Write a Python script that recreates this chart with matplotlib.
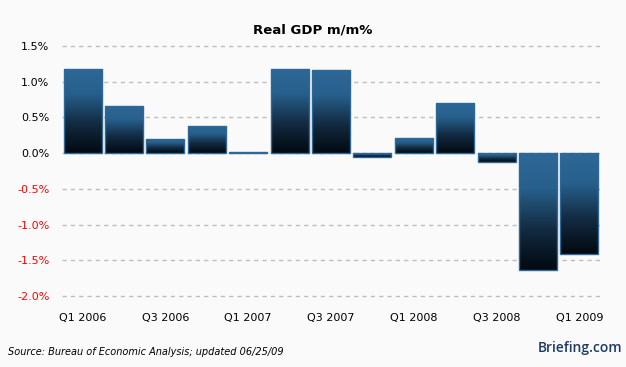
import matplotlib
matplotlib.use("Agg")
import matplotlib.pyplot as plt
import numpy as np
from matplotlib.colors import LinearSegmentedColormap
from matplotlib.patches import Rectangle

quarters = ["Q1 2006", "Q2 2006", "Q3 2006", "Q4 2006",
            "Q1 2007", "Q2 2007", "Q3 2007", "Q4 2007",
            "Q1 2008", "Q2 2008", "Q3 2008", "Q4 2008", "Q1 2009"]
values = [1.18, 0.66, 0.20, 0.38, 0.02, 1.18, 1.16, -0.05, 0.21, 0.70, -0.13, -1.63, -1.41]
yticks = [-2.0, -1.5, -1.0, -0.5, 0.0, 0.5, 1.0, 1.5]

W, H = 626, 367
fig = plt.figure(figsize=(W / 100, H / 100), dpi=100)
bg = "#fafafa"
fig.patch.set_facecolor(bg)
ax = fig.add_axes([62 / W, (H - 296) / H, 538 / W, 250 / H])
ax.set_facecolor(bg)

x = np.arange(len(values))

for yv in yticks:
    ax.axhline(yv, color="#bdbdbd", lw=1, ls=(0, (3, 3)), zorder=1, clip_on=False)

cmap = LinearSegmentedColormap.from_list(
    "g", [(0.0, "#020910"), (0.35, "#132b42"), (0.7, "#27608c"), (1.0, "#2e6898")])
grad = np.linspace(0, 1, 256).reshape(-1, 1)
width = 0.92
bars = ax.bar(x, values, width=width, color="none", edgecolor="#2e6898", lw=1, zorder=3)
for b, v in zip(bars, values):
    x0 = b.get_x()
    y0, y1 = min(0, v), max(0, v)
    im = ax.imshow(grad, cmap=cmap, origin="lower", aspect="auto",
                   extent=[x0, x0 + width, y0, y1], zorder=2)
    clip = Rectangle((x0, y0), width, y1 - y0, transform=ax.transData)
    im.set_clip_path(clip)

ax.set_xlim(-0.5, len(values) - 0.5)
ax.set_ylim(-2.0, 1.5)

for s in ax.spines.values():
    s.set_visible(False)

ax.set_yticks(yticks)
ax.set_yticklabels([f"{v:.1f}%" for v in yticks], fontsize=8)
for lab, v in zip(ax.get_yticklabels(), yticks):
    lab.set_color("red" if v < 0 else "black")
ax.set_xticks(x[::2])
ax.set_xticklabels(quarters[::2], fontsize=8)
ax.tick_params(axis="both", length=0)
ax.tick_params(axis="y", pad=9)
ax.tick_params(axis="x", pad=12)

fig.text(313 / W, 1 - 30 / H, "Real GDP m/m%", ha="center", va="center",
         fontsize=9.5, fontweight="bold")
fig.text(8 / W, 1 - 352 / H, "Source: Bureau of Economic Analysis; updated 06/25/09",
         ha="left", va="center", fontsize=7, style="italic")
fig.text(622 / W, 1 - 348 / H, "Briefing.com", ha="right", va="center",
         fontsize=10, color="#1b3a66", fontweight="semibold", family="Open Sans")

fig.savefig("out.png", dpi=100, facecolor=bg)
